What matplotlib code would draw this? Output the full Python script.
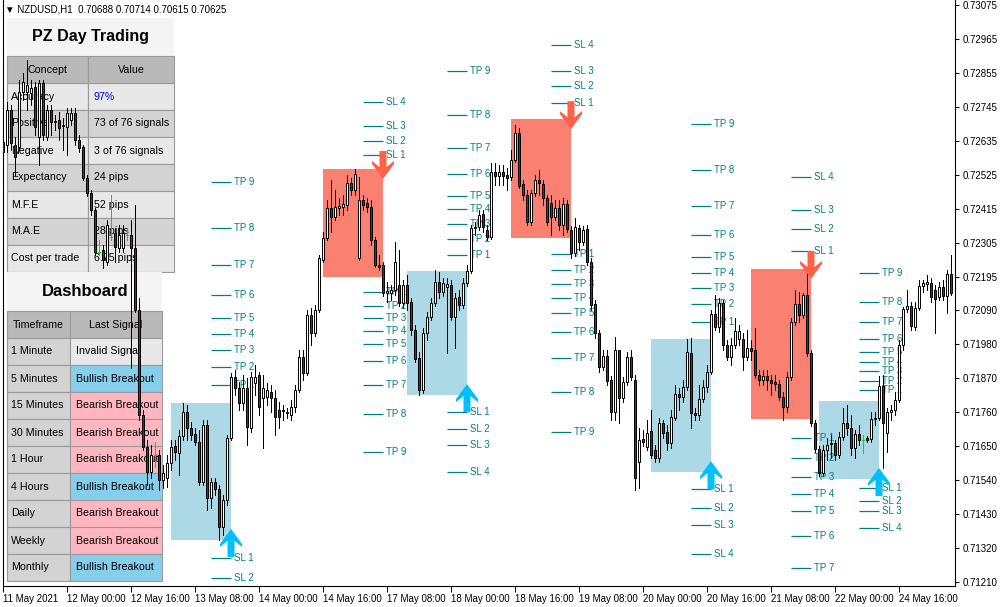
import numpy as np
import matplotlib
matplotlib.use("Agg")
import matplotlib.pyplot as plt
from matplotlib.patches import Rectangle, Polygon
import matplotlib.transforms as mtransforms

plt.rcParams['font.family'] = ['Liberation Sans', 'DejaVu Sans']

W, H = 1000, 607

# NZDUSD H1 candles, prices in points (1 point = 0.00001)
opens_pts = [
    72632, 72622, 72736, 72622, 72616, 72794, 72794, 72790, 72810, 72648,
    72823, 72648, 72736, 72697, 72703, 72684, 72681, 72703, 72726, 72639,
    72616, 72516, 72467, 72412, 72276, 72283, 72244, 72325, 72338, 72289,
    72289, 72331, 72331, 72289, 72089, 71750, 71646, 71565, 71620, 71620,
    71540, 71546, 71595, 71650, 71627, 71682, 71759, 71708, 71688, 71662,
    71533, 71717, 71481, 71533, 71511, 71388, 71475, 71675, 71873, 71837,
    71788, 71837, 71708, 71853, 71879, 71805, 71808, 71824, 71805, 71766,
    71766, 71756, 71750, 71776, 71831, 71937, 71885, 72073, 72015, 72089,
    72251, 72322, 72419, 72390, 72419, 72422, 72428, 72500, 72477, 72257,
    72445, 72435, 72422, 72315, 72234, 72234, 72144, 72144, 72154, 72170,
    72112, 72170, 72115, 72024, 71934, 71831, 72015, 72066, 72112, 72180,
    72147, 72163, 72170, 72066, 72131, 72105, 72176, 72215, 72354, 72357,
    72399, 72348, 72325, 72535, 72522, 72535, 72525, 72519, 72574, 72661,
    72496, 72461, 72374, 72467, 72509, 72496, 72451, 72435, 72390, 72419,
    72364, 72432, 72348, 72273, 72354, 72309, 72351, 72244, 72108, 72015,
    71905, 71940, 71863, 71759, 71960, 71805, 71856, 71937, 71863, 71598,
    71672, 71646, 71698, 71637, 71611, 71724, 71695, 71659, 71740, 71818,
    71808, 71840, 71950, 71756, 71750, 71801, 71840, 71889, 72076, 72034,
    72112, 71976, 71937, 71976, 71995, 71995, 71937, 71966, 71960, 71879,
    71863, 71876, 71863, 71856, 71850, 71808, 71776, 71873, 72050, 72108,
    72073, 72138, 71950, 71724, 71640, 71562, 71637, 71656, 71659, 71620,
    71679, 71724, 71708, 71643, 71688, 71669, 71675, 71672, 71737, 71740,
    71843, 71692, 71759, 71766, 71798, 71976, 72092, 72102, 72034, 72096,
    72167, 72173, 72176, 72154, 72131, 72163, 72134, 72205,
]
highs_pts = [
    72664, 72761, 72752, 72648, 72832, 72855, 72897, 72832, 72826, 72832,
    72832, 72752, 72752, 72719, 72729, 72710, 72742, 72742, 72742, 72655,
    72622, 72525, 72477, 72419, 72315, 72299, 72380, 72461, 72354, 72364,
    72364, 72354, 72380, 72428, 72128, 71766, 71669, 71653, 71662, 71637,
    71588, 71620, 71669, 71669, 71701, 71788, 71782, 71727, 71708, 71701,
    71734, 71734, 71546, 71546, 71523, 71491, 71685, 71885, 71895, 71856,
    71879, 71869, 71889, 71911, 71889, 71879, 71853, 71847, 71831, 71792,
    71782, 71772, 71798, 71847, 71960, 71960, 72089, 72096, 72105, 72267,
    72341, 72445, 72509, 72477, 72451, 72461, 72525, 72516, 72545, 72519,
    72461, 72451, 72445, 72325, 72267, 72244, 72180, 72170, 72309, 72283,
    72186, 72202, 72128, 72041, 71953, 72031, 72083, 72128, 72218, 72212,
    72192, 72192, 72186, 72144, 72154, 72192, 72234, 72364, 72374, 72412,
    72412, 72364, 72564, 72564, 72558, 72558, 72548, 72606, 72687, 72677,
    72509, 72477, 72477, 72525, 72542, 72509, 72461, 72461, 72445, 72445,
    72451, 72445, 72361, 72386, 72364, 72361, 72364, 72257, 72121, 72024,
    71960, 71960, 71876, 72002, 71960, 71873, 71953, 71960, 71879, 71708,
    71701, 71734, 71766, 71653, 71740, 71734, 71717, 71766, 71847, 71837,
    71863, 71995, 71999, 71772, 71847, 71863, 71911, 72089, 72138, 72128,
    72121, 71992, 71999, 72063, 72041, 72015, 72024, 71992, 72031, 71895,
    71895, 71895, 71879, 71879, 71863, 71824, 71889, 72063, 72154, 72147,
    72144, 72218, 71960, 71734, 71650, 71653, 71675, 71685, 71669, 71695,
    71772, 71782, 71750, 71701, 71717, 71685, 71682, 71759, 71759, 71876,
    71879, 71772, 71782, 71824, 71992, 72099, 72154, 72115, 72115, 72186,
    72186, 72202, 72192, 72170, 72180, 72186, 72218, 72267,
]
lows_pts = [
    72590, 72600, 72606, 72525, 72606, 72768, 72736, 72752, 72655, 72558,
    72639, 72639, 72655, 72671, 72639, 72606, 72590, 72687, 72622, 72600,
    72509, 72458, 72396, 72267, 72267, 72225, 72234, 72315, 72244, 72276,
    72276, 72315, 71902, 72083, 71734, 71637, 71523, 71546, 71582, 71507,
    71514, 71517, 71572, 71604, 71556, 71669, 71669, 71669, 71653, 71523,
    71523, 71443, 71449, 71491, 71346, 71362, 71459, 71669, 71814, 71766,
    71766, 71653, 71695, 71814, 71750, 71643, 71782, 71759, 71685, 71708,
    71734, 71740, 71734, 71759, 71824, 71863, 71879, 71976, 72005, 72083,
    72244, 72315, 72341, 72380, 72396, 72396, 72412, 72461, 72461, 72251,
    72412, 72406, 72299, 72228, 72218, 72134, 72115, 72121, 72138, 72102,
    72096, 72089, 72008, 71921, 71814, 71821, 71992, 72057, 72102, 72128,
    72134, 71950, 72057, 71966, 72089, 72096, 72167, 72209, 72331, 72348,
    72341, 72315, 72319, 72493, 72493, 72493, 72477, 72509, 72567, 72483,
    72445, 72364, 72364, 72458, 72461, 72428, 72364, 72331, 72380, 72348,
    72331, 72341, 72257, 72264, 72283, 72299, 72234, 72089, 71999, 71889,
    71895, 71847, 71734, 71734, 71724, 71792, 71847, 71863, 71507, 71514,
    71650, 71637, 71611, 71598, 71598, 71675, 71637, 71643, 71734, 71766,
    71792, 71831, 71708, 71734, 71734, 71792, 71824, 71882, 72024, 72018,
    71960, 71927, 71911, 71966, 71976, 71895, 71927, 71927, 71869, 71847,
    71847, 71831, 71814, 71831, 71798, 71734, 71759, 71863, 72041, 72050,
    72063, 71940, 71714, 71630, 71553, 71553, 71604, 71611, 71604, 71611,
    71669, 71685, 71620, 71611, 71653, 71627, 71662, 71662, 71717, 71734,
    71578, 71630, 71734, 71750, 71792, 71960, 72083, 72024, 72024, 72089,
    72147, 72154, 72115, 72015, 72121, 72121, 72079, 72138,
]
closes_pts = [
    72600, 72736, 72629, 72584, 72794, 72826, 72816, 72807, 72681, 72823,
    72655, 72736, 72697, 72700, 72677, 72687, 72726, 72726, 72639, 72613,
    72516, 72467, 72412, 72276, 72276, 72251, 72364, 72325, 72293, 72331,
    72338, 72331, 72289, 72089, 71750, 71646, 71565, 71620, 71620, 71540,
    71562, 71595, 71646, 71630, 71682, 71759, 71708, 71685, 71662, 71533,
    71717, 71481, 71533, 71511, 71388, 71475, 71675, 71873, 71837, 71788,
    71837, 71711, 71873, 71873, 71776, 71837, 71831, 71805, 71743, 71743,
    71763, 71759, 71776, 71831, 71937, 71885, 72073, 72015, 72089, 72257,
    72322, 72419, 72390, 72422, 72425, 72432, 72500, 72477, 72529, 72445,
    72428, 72422, 72315, 72234, 72228, 72144, 72150, 72154, 72244, 72112,
    72170, 72112, 72024, 71931, 71831, 72015, 72066, 72112, 72180, 72147,
    72176, 72173, 72066, 72128, 72105, 72176, 72215, 72354, 72357, 72396,
    72357, 72325, 72535, 72522, 72535, 72522, 72516, 72574, 72661, 72490,
    72461, 72374, 72467, 72509, 72500, 72451, 72374, 72390, 72419, 72364,
    72432, 72351, 72273, 72357, 72309, 72348, 72244, 72105, 72015, 71905,
    71940, 71860, 71759, 71960, 71805, 71856, 71937, 71873, 71546, 71669,
    71662, 71692, 71620, 71611, 71724, 71692, 71659, 71743, 71818, 71808,
    71840, 71953, 71756, 71750, 71801, 71840, 71889, 72076, 72034, 72112,
    71976, 71937, 71976, 72021, 72021, 71937, 71966, 71957, 71879, 71863,
    71876, 71863, 71853, 71850, 71808, 71776, 71873, 72050, 72108, 72073,
    72138, 71950, 71724, 71640, 71562, 71637, 71653, 71659, 71620, 71679,
    71724, 71708, 71643, 71688, 71669, 71669, 71669, 71737, 71740, 71843,
    71724, 71759, 71766, 71798, 71976, 72092, 72102, 72037, 72096, 72167,
    72176, 72180, 72131, 72125, 72163, 72134, 72205, 72144,
]

date_labels = ["11 May 2021", "12 May 00:00", "12 May 16:00", "13 May 08:00",
               "14 May 00:00", "14 May 16:00", "17 May 08:00", "18 May 00:00",
               "18 May 16:00", "19 May 08:00", "20 May 00:00", "20 May 16:00",
               "21 May 08:00", "22 May 00:00", "24 May 16:00"]
price_ticks = [0.73075, 0.72965, 0.72855, 0.72745, 0.72635, 0.72525, 0.72415,
               0.72305, 0.72195, 0.72090, 0.71980, 0.71870, 0.71760, 0.71650,
               0.71540, 0.71430, 0.71320, 0.71210]

# breakout ranges (bar index start/end, high/low price, direction)
box_start = [42, 80, 101, 127, 162, 187, 204]
box_end = [57, 95, 116, 142, 177, 202, 219]
box_high = [0.71788, 0.72545, 0.72215, 0.72706, 0.71995, 0.72222, 0.71795]
box_low = [0.71346, 0.72196, 0.71814, 0.72322, 0.71565, 0.71737, 0.71543]
box_dir = ['up', 'down', 'up', 'down', 'up', 'down', 'up']

tp_levels = [
    [0.71847, 0.71905, 0.71960, 0.72011, 0.72063, 0.72138, 0.72234, 0.72354, 0.72503],
    [0.72147, 0.72102, 0.72063, 0.72021, 0.71979, 0.71924, 0.71847, 0.71753, 0.71630],
    [0.72267, 0.72319, 0.72367, 0.72416, 0.72458, 0.72529, 0.72613, 0.72719, 0.72862],
    [0.72270, 0.72218, 0.72173, 0.72128, 0.72079, 0.72018, 0.71934, 0.71824, 0.71695],
    [0.72050, 0.72108, 0.72160, 0.72209, 0.72260, 0.72331, 0.72425, 0.72542, 0.72690],
    [0.71675, 0.71611, 0.71549, 0.71494, 0.71439, 0.71359, 0.71255],
    [0.71831, 0.71860, 0.71892, 0.71921, 0.71953, 0.71995, 0.72050, 0.72115, 0.72209],
]
sl_levels = [
    [0.71288, 0.71223],
    [0.72590, 0.72635, 0.72684, 0.72761],
    [0.71759, 0.71705, 0.71653, 0.71565],
    [0.72758, 0.72813, 0.72862, 0.72946],
    [0.71511, 0.71449, 0.71394, 0.71301],
    [0.72280, 0.72351, 0.72412, 0.72519],
    [0.71514, 0.71472, 0.71439, 0.71385],
]

stats_labels = ["Accuracy", "Positive", "Negative", "Expectancy", "M.F.E", "M.A.E", "Cost per trade"]
stats_values = ["97%", "73 of 76 signals", "3 of 76 signals", "24 pips", "52 pips", "28 pips", "6.75 pips"]
dash_timeframes = ["1 Minute", "5 Minutes", "15 Minutes", "30 Minutes", "1 Hour",
                   "4 Hours", "Daily", "Weekly", "Monthly"]
dash_signals = ["Invalid Signal", "Bullish Breakout", "Bearish Breakout", "Bearish Breakout",
                "Bearish Breakout", "Bullish Breakout", "Bearish Breakout", "Bearish Breakout",
                "Bullish Breakout"]

o = np.array(opens_pts) / 1e5
h = np.array(highs_pts) / 1e5
l = np.array(lows_pts) / 1e5
c = np.array(closes_pts) / 1e5
n = len(o)
x = np.arange(n)

TEAL = '#008080'
fig = plt.figure(figsize=(W / 100, H / 100), dpi=100)
ax = fig.add_axes([2.5 / W, 1 - 586 / H, 953 / W, 586 / H])
ax.set_xlim(-0.125, n + 0.125)
ax.set_ylim(0.711971, 0.730912)


def fig_rect(x0, y0, x1, y1, fc, ec='#9a9a9a', z=0.5):
    r = Rectangle((x0 / W, 1 - y1 / H), (x1 - x0) / W, (y1 - y0) / H,
                  transform=fig.transFigure, facecolor=fc, edgecolor=ec,
                  linewidth=0.8, zorder=z, clip_on=False)
    ax.add_patch(r)


def fig_text(px, py, s, ha='left', **kw):
    ax.text(px / W, 1 - py / H, s, transform=fig.transFigure, ha=ha, va='center',
            zorder=0.7, clip_on=False, **kw)


# --- PZ Day Trading stats panel
fig_rect(7, 18, 174, 56, '#f4f4f4', ec='none')
fig_text(90, 37, "PZ Day Trading", ha='center', fontsize=11.5, fontweight='bold')
row_h = 27
fig_rect(7, 56, 88, 83, '#b9b9b9')
fig_rect(88, 56, 174, 83, '#b9b9b9')
fig_text(47.5, 70, "Concept", ha='center', fontsize=7.7)
fig_text(131, 70, "Value", ha='center', fontsize=7.7)
for k, (lab, val) in enumerate(zip(stats_labels, stats_values)):
    y0 = 83 + k * row_h
    fc = '#e8e8e8' if k % 2 == 0 else '#d3d3d3'
    fig_rect(7, y0, 88, y0 + row_h, fc)
    fig_rect(88, y0, 174, y0 + row_h, fc)
    fig_text(11, y0 + row_h / 2, lab, fontsize=7.7)
    fig_text(94, y0 + row_h / 2, val, fontsize=7.7,
             color='#0000ff' if k == 0 else 'black')

# --- Dashboard panel
sig_colors = {'Invalid': '#e8e8e8', 'Bullish': '#87ceeb', 'Bearish': '#ffb6c1'}
fig_rect(7, 272, 162, 311, '#f4f4f4', ec='none')
fig_text(85, 292, "Dashboard", ha='center', fontsize=12, fontweight='bold')
fig_rect(7, 311, 70, 338, '#b9b9b9')
fig_rect(70, 311, 162, 338, '#b9b9b9')
fig_text(38.5, 325, "Timeframe", ha='center', fontsize=7.7)
fig_text(116, 325, "Last Signal", ha='center', fontsize=7.7)
for k, (tf, sig) in enumerate(zip(dash_timeframes, dash_signals)):
    y0 = 338 + k * row_h
    fig_rect(7, y0, 70, y0 + row_h, '#d3d3d3')
    fig_rect(70, y0, 162, y0 + row_h, sig_colors[sig.split()[0]])
    fig_text(11, y0 + row_h / 2, tf, fontsize=7.7)
    fig_text(76, y0 + row_h / 2, sig, fontsize=7.7)

# --- breakout boxes, TP/SL levels, arrows
arrow_up = np.array([(0, 0), (11, -15), (11, -18), (3.5, -12), (3.5, -28),
                     (-3.5, -28), (-3.5, -12), (-11, -18), (-11, -15)])
for b in range(len(box_start)):
    up = box_dir[b] == 'up'
    ax.add_patch(Rectangle((box_start[b], box_low[b]), box_end[b] - box_start[b],
                           box_high[b] - box_low[b],
                           facecolor='#add8e6' if up else '#fa8072',
                           edgecolor='none', zorder=1))
    x1 = box_end[b]
    x0 = x1 - 5
    for name, levels in (("TP", tp_levels[b]), ("SL", sl_levels[b])):
        ax.hlines(levels, x0, x1, color=TEAL, lw=0.9, zorder=2)
        for k, lv in enumerate(levels):
            ax.text(x1 + 0.8, lv, f"{name} {k + 1}", color=TEAL, fontsize=7,
                    ha='left', va='center', zorder=2, clip_on=True)
    if up:
        verts = arrow_up + np.array([0, 11])
        anchor = (x1, box_low[b])
        col = '#00bfff'
    else:
        verts = arrow_up * np.array([1, -1]) + np.array([0, -10])
        anchor = (x1, box_high[b])
        col = '#ff6347'
    tr = mtransforms.Affine2D() + mtransforms.ScaledTranslation(anchor[0], anchor[1], ax.transData)
    ax.add_patch(Polygon(verts, closed=True, transform=tr, facecolor=col,
                         edgecolor='none', zorder=6))

# --- candles
doji = o == c
bull = c > o
wick_colors = np.where(doji, '#00e000', 'black')
ax.vlines(x, l, h, colors=wick_colors, lw=0.6, zorder=3, antialiased=False)
nd = ~doji
ax.bar(x[nd], np.abs(c - o)[nd], bottom=np.minimum(o, c)[nd], width=0.55,
       color=np.where(bull[nd], 'white', '#d00000'), edgecolor='black',
       linewidth=0.7, zorder=4)
ax.hlines(o[doji], x[doji] - 0.35, x[doji] + 0.35, colors='#00e000', lw=0.6, zorder=4,
          antialiased=False)

# --- axes
ax.yaxis.tick_right()
ax.set_yticks(price_ticks)
ax.set_yticklabels([f"{p:.5f}" for p in price_ticks])
ax.set_xticks(np.arange(len(date_labels)) * 16)
ax.set_xticklabels(date_labels)
for lab in ax.get_xticklabels():
    lab.set_horizontalalignment('left')
ax.tick_params(axis='y', direction='out', length=3, width=0.75, pad=2, labelsize=7)
ax.tick_params(axis='x', direction='out', length=4, width=0.75, pad=1.5, labelsize=7)
ax.spines['top'].set_visible(False)
for s in ('left', 'right', 'bottom'):
    ax.spines[s].set_linewidth(0.8)

fig.text(5 / W, 1 - 10 / H, "\u25bc NZDUSD,H1  0.70688 0.70714 0.70615 0.70625",
         fontsize=7, va='center', ha='left')

fig.savefig("out.png", dpi=100)
